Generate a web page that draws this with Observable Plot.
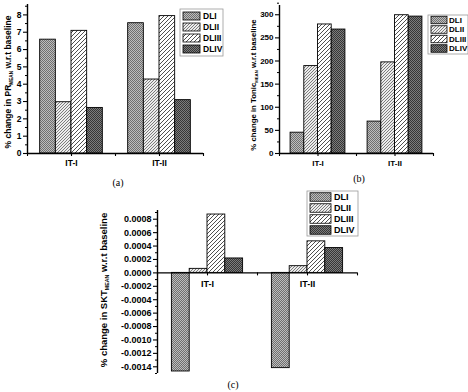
<!DOCTYPE html>
<html><head><meta charset="utf-8">
<script src="https://cdn.jsdelivr.net/npm/d3@7"></script>
<script src="https://cdn.jsdelivr.net/npm/@observablehq/plot@0.6"></script>
<style>
body{margin:0;background:#fff;}
#wrap{position:relative;width:468px;height:392px;overflow:hidden;font-family:"Liberation Sans",Arial,sans-serif;}
#wrap > svg{position:absolute;overflow:visible;}
</style></head><body><div id="wrap"></div>
<script>
// ---- data ----
const groups = ["IT-I", "IT-II"];
const groupPos = [1, 2];
const series = ["DLI", "DLII", "DLIII", "DLIV"];

// (a) % change in PR_MEAN
const prDLI = [6.57, 7.52];
const prDLII = [2.96, 4.27];
const prDLIII = [7.08, 7.93];
const prDLIV = [2.63, 3.08];

// (b) % change in Tonic_MEAN
const tonicDLI = [45, 69];
const tonicDLII = [189, 197];
const tonicDLIII = [279, 299];
const tonicDLIV = [268, 296];

// (c) % change in SKT_MEAN
const sktDLI = [-0.00147, -0.00142];
const sktDLII = [0.00006, 0.0001];
const sktDLIII = [0.00087, 0.00047];
const sktDLIV = [0.000215, 0.00037];

const prTicks = d3.range(0, 9);
const tonicTicks = d3.range(0, 301, 50);
const sktTicks = d3.range(-14, 9, 2).map(v => v / 10000);

const patternIds = ["pDLI", "pDLII", "pDLIII", "pDLIV"];
const patternUrls = patternIds.map(id => `url(#${id})`);

const wrap = d3.select("#wrap");

function rows(vals) {
  const out = [];
  groupPos.forEach((p, gi) => series.forEach((s, si) => out.push({pos: p, k: si, series: s, value: vals[si][gi]})));
  return out;
}

const barW = 0.178;
const FONT = "'Liberation Sans', Arial, sans-serif";

function chart({vals, yDomain, major, minor, fmt, width, height, margins, tickFont, labelDy}) {
  const data = rows(vals);
  return Plot.plot({
    width, height,
    marginLeft: margins[0], marginRight: margins[1], marginTop: margins[2], marginBottom: margins[3],
    style: {fontFamily: FONT, fontWeight: "bold", fontSize: tickFont + "px", background: "transparent", color: "#000"},
    x: {domain: [0.5, 2.5], axis: null},
    y: {domain: yDomain, label: null},
    color: {domain: series, range: patternUrls},
    marks: [
      Plot.rect(data, {
        x1: d => d.pos + (d.k - 2) * barW,
        x2: d => d.pos + (d.k - 1) * barW,
        y1: 0, y2: "value",
        fill: "series", stroke: "#000", strokeWidth: 0.9
      }),
      Plot.axisY({ticks: major, tickSize: 4, tickPadding: 2, tickFormat: fmt, strokeWidth: 1.1, label: null}),
      Plot.axisY({ticks: minor, tickSize: 2, tickFormat: () => "", strokeWidth: 1, label: null}),
      Plot.ruleX([0.5], {strokeWidth: 1.4}),
      Plot.ruleY([0], {strokeWidth: 1.4}),
      Plot.ruleX([0.5, 1, 1.5, 2, 2.5], {y1: 0, y2: 0, insetBottom: -3, strokeWidth: 1.1}),
      Plot.text(groups, {x: (d, i) => groupPos[i], y: 0, dy: labelDy, text: d => d, fontWeight: "bold"})
    ]
  });
}

function place(node, left, top) {
  node.style.position = "absolute";
  node.style.left = left + "px";
  node.style.top = top + "px";
  wrap.node().appendChild(node);
}

place(chart({
  vals: [prDLI, prDLII, prDLIII, prDLIV],
  yDomain: [0, 8.6], major: prTicks, minor: prTicks.map(v => v + 0.5),
  fmt: d => String(d), width: 234, height: 175, margins: [27, 31, 4, 22], tickFont: 8.5, labelDy: 10
}), 0, 0);

place(chart({
  vals: [tonicDLI, tonicDLII, tonicDLIII, tonicDLIV],
  yDomain: [0, 320], major: tonicTicks, minor: tonicTicks.map(v => v + 25),
  fmt: d => String(d), width: 234, height: 175, margins: [45, 35, 5, 22], tickFont: 8, labelDy: 10
}), 234, 0);

place(chart({
  vals: [sktDLI, sktDLII, sktDLIII, sktDLIV],
  yDomain: [-0.0015, 0.00093], major: sktTicks, minor: d3.range(-15, 10, 2).map(v => v / 10000),
  fmt: d => (Math.abs(d) < 1e-12 ? 0 : d).toFixed(4), width: 270, height: 195, margins: [57, 13, 25, 7], tickFont: 9, labelDy: 11
}), 100, 185);

// ---- overlay: patterns, titles, legends, captions ----
const ov = wrap.append("svg").attr("width", 468).attr("height", 392)
  .style("left", "0px").style("top", "0px").style("pointer-events", "none");
const defs = ov.append("defs");

let p = defs.append("pattern").attr("id", "pDLI").attr("patternUnits", "userSpaceOnUse").attr("width", 2).attr("height", 2);
p.append("rect").attr("width", 2).attr("height", 2).attr("fill", "#bdbdbd");
p.append("rect").attr("width", 1).attr("height", 1).attr("fill", "#6f6f6f");
p.append("rect").attr("x", 1).attr("y", 1).attr("width", 1).attr("height", 1).attr("fill", "#6f6f6f");

p = defs.append("pattern").attr("id", "pDLII").attr("patternUnits", "userSpaceOnUse").attr("width", 3).attr("height", 3);
p.append("rect").attr("width", 3).attr("height", 3).attr("fill", "#ececec");
[[2, 0], [1, 1], [0, 2]].forEach(([x, y]) => p.append("rect").attr("x", x).attr("y", y).attr("width", 1).attr("height", 1).attr("fill", "#7c7c7c"));

p = defs.append("pattern").attr("id", "pDLIII").attr("patternUnits", "userSpaceOnUse").attr("width", 4).attr("height", 4);
p.append("rect").attr("width", 4).attr("height", 4).attr("fill", "#fff");
p.append("path").attr("d", "M-1,1 L1,-1 M0,4 L4,0 M3,5 L5,3").attr("stroke", "#3c3c3c").attr("stroke-width", 0.9);

p = defs.append("pattern").attr("id", "pDLIV").attr("patternUnits", "userSpaceOnUse").attr("width", 2).attr("height", 2);
p.append("rect").attr("width", 2).attr("height", 2).attr("fill", "#7c7c7c");
p.append("rect").attr("width", 1).attr("height", 1).attr("fill", "#363636");
p.append("rect").attr("x", 1).attr("y", 1).attr("width", 1).attr("height", 1).attr("fill", "#363636");

function ytitle(x, y, main, sub, rest, size) {
  const t = ov.append("text").attr("transform", `translate(${x},${y}) rotate(-90)`)
    .attr("text-anchor", "middle").attr("font-family", FONT).attr("font-weight", "bold").attr("font-size", size);
  t.append("tspan").text(main);
  t.append("tspan").attr("font-size", size * 0.55).attr("dy", size * 0.25).text(sub);
  t.append("tspan").attr("dy", -size * 0.25).text(rest);
}
ytitle(11, 82, "% change in PR", "MEAN", " w.r.t baseline", 8.5);
ytitle(256, 85, "% change in Tonic", "MEAN", " w.r.t baseline", 7.8);
ytitle(107, 290, "% change in SKT", "MEAN", " w.r.t baseline", 9.5);

function legend(x, y, w, h, rowYs, sx, sw, sh, tx, fs) {
  ov.append("rect").attr("x", x).attr("y", y).attr("width", w).attr("height", h)
    .attr("fill", "#fff").attr("stroke", "#9a9a9a").attr("stroke-width", 0.8);
  series.forEach((s, i) => {
    ov.append("rect").attr("x", sx).attr("y", rowYs[i] - sh / 2).attr("width", sw).attr("height", sh)
      .attr("fill", patternUrls[i]).attr("stroke", "#000").attr("stroke-width", 0.8);
    ov.append("text").attr("x", tx).attr("y", rowYs[i]).attr("dy", "0.35em")
      .attr("font-family", FONT).attr("font-weight", "bold").attr("font-size", fs).text(s);
  });
}
legend(180, 9, 43, 47, [16, 27, 38, 49], 183, 17, 8, 203, 8.5);
legend(428, 15, 40, 39, [20, 29.5, 39, 48.5], 431, 16, 7.5, 449, 8);
legend(307, 191, 51, 45, [197, 208, 219, 230], 310, 21, 8.5, 334, 9);

function caption(x, y, t) {
  ov.append("text").attr("x", x).attr("y", y).attr("text-anchor", "middle")
    .attr("font-family", "'Liberation Serif', 'Times New Roman', serif").attr("font-size", 10).text(t);
}
caption(118, 186, "(a)");
caption(359, 182, "(b)");
caption(233, 388, "(c)");
</script></body></html>
